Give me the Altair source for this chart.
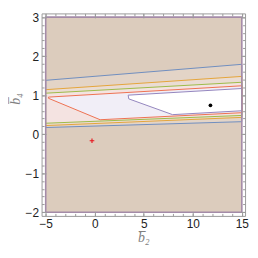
import altair as alt
import pandas as pd

# ---------------- data ----------------
# plot range of the region plot
x_lim = [-5, 15]
y_lim = [-2, 3]

# straight boundaries of the three outer bands: value at x=-5 and at x=15
band_names = ["blue", "orange", "green"]
upper_at_left = [1.38, 1.14, 1.05]
upper_at_right = [1.79, 1.48, 1.33]
lower_at_left = [0.17, 0.22, 0.28]
lower_at_right = [0.32, 0.43, 0.48]

# inner regions (polygon vertices)
red_x = [-4.72, 15, 15, 0.55, -4.72]
red_y = [0.95, 1.24, 0.55, 0.37, 0.92]
purple_x = [3.41, 15, 15, 7.94, 3.47]
purple_y = [1.00, 1.17, 0.60, 0.50, 0.905]

# marked points
dot_x, dot_y = [11.8], [0.74]
cross_x, cross_y = [-0.28], [-0.17]

# ticks
x_major = [-5, 0, 5, 10, 15]
x_minor = [-5, -4, -3, -2, -1, 0, 1, 2, 3, 4, 5, 6, 7, 8, 9, 10, 11, 12, 13, 14, 15]
y_major = [-2, -1, 0, 1, 2, 3]
y_minor = [-2.0, -1.8, -1.6, -1.4, -1.2, -1.0, -0.8, -0.6, -0.4, -0.2, 0.0, 0.2, 0.4,
           0.6, 0.8, 1.0, 1.2, 1.4, 1.6, 1.8, 2.0, 2.2, 2.4, 2.6, 2.8, 3.0]

# ---------------- styling ----------------
W, H = 206, 205
XD = [-5.42, 15.33]
YD = [-2.095, 3.095]
band_fill = ["#E3D4C7", "#EADCD3", "#F4E3E1"]
band_line = ["#6F8DBF", "#E5A53A", "#9CBB48"]
outer_fill = "#DCCCBD"
red_fill, red_line = "#F1EEF7", "#EE7150"
purple_fill, purple_line = "#FFFFFF", "#9385BE"
frame_col = "#A48BA8"
axis_col = "#9A9A9A"


def poly(xs, ys):
    xs = list(xs) + [xs[0]]
    ys = list(ys) + [ys[0]]
    return pd.DataFrame({"x": xs, "y": ys, "o": list(range(len(xs)))})


main_x_axis = alt.Axis(values=x_major, ticks=False, tickSize=0, domain=False, grid=False,
                       labelFont="Liberation Sans", labelFontSize=12, labelColor="#222222",
                       labelPadding=3, title="b\u0305\u2082", titleFont="Liberation Serif",
                       titleFontStyle="italic", titleFontWeight="normal", titleFontSize=14,
                       titleColor="#808080", titlePadding=1, format="d")
main_y_axis = alt.Axis(values=y_major, ticks=False, tickSize=0, domain=False, grid=False,
                       labelFont="Liberation Sans", labelFontSize=12, labelColor="#222222",
                       labelPadding=3, title="b\u0305\u2084", titleFont="Liberation Serif",
                       titleFontStyle="italic", titleFontWeight="normal", titleFontSize=14,
                       titleColor="#808080", titlePadding=3, titleY=0.42 * H, format="d")


def X(axis=main_x_axis):
    return alt.X("x:Q", scale=alt.Scale(domain=XD, nice=False, zero=False), axis=axis)


def Y(axis=main_y_axis):
    return alt.Y("y:Q", scale=alt.Scale(domain=YD, nice=False, zero=False), axis=axis)


rect_x = [x_lim[0], x_lim[1], x_lim[1], x_lim[0]]
rect_y = [y_lim[0], y_lim[0], y_lim[1], y_lim[1]]

layers = []
layers.append(alt.Chart(poly(rect_x, rect_y)).mark_line(fill=outer_fill, strokeWidth=0)
              .encode(x=X(), y=Y(), order="o:Q"))
for i in range(3):
    xs = [x_lim[0], x_lim[1], x_lim[1], x_lim[0]]
    ys = [lower_at_left[i], lower_at_right[i], upper_at_right[i], upper_at_left[i]]
    layers.append(alt.Chart(poly(xs, ys)).mark_line(fill=band_fill[i], stroke=band_line[i],
                                                    strokeWidth=1)
                  .encode(x=X(), y=Y(), order="o:Q"))
layers.append(alt.Chart(poly(red_x, red_y)).mark_line(fill=red_fill, stroke=red_line, strokeWidth=1)
              .encode(x=X(), y=Y(), order="o:Q"))
layers.append(alt.Chart(poly(purple_x, purple_y)).mark_line(fill=purple_fill, stroke=purple_line,
                                                            strokeWidth=1)
              .encode(x=X(), y=Y(), order="o:Q"))
layers.append(alt.Chart(poly(rect_x, rect_y)).mark_line(stroke=frame_col, strokeWidth=1.6)
              .encode(x=X(), y=Y(), order="o:Q"))
layers.append(alt.Chart(pd.DataFrame({"x": dot_x, "y": dot_y})).mark_circle(color="black", size=14, opacity=1)
              .encode(x=X(), y=Y()))
layers.append(alt.Chart(pd.DataFrame({"x": cross_x, "y": cross_y}))
              .mark_point(shape="M-1,0L1,0M0,-1L0,1", filled=False, stroke="#E8101A", strokeWidth=1.1,
                          size=22, opacity=1)
              .encode(x=X(), y=Y()))
data_group = alt.layer(*layers)

dummy = pd.DataFrame({"x": rect_x, "y": rect_y})


def tick_layer(xorient, xoff, xvals, yorient, yoff, yvals, size, dom):
    ax = alt.Axis(orient=xorient, offset=xoff, values=xvals, labels=False, tickSize=size,
                  tickColor=axis_col, domain=dom, domainColor=axis_col, grid=False, title=None,
                  zindex=1, tickWidth=1)
    ay = alt.Axis(orient=yorient, offset=yoff, values=yvals, labels=False, tickSize=size,
                  tickColor=axis_col, domain=dom, domainColor=axis_col, grid=False, title=None,
                  zindex=1, tickWidth=1)
    return alt.Chart(dummy).mark_point(opacity=0).encode(x=X(ax), y=Y(ay))


chart = alt.layer(
    data_group,
    tick_layer("top", -H, x_major, "right", -W, y_major, 4.5, True),
    tick_layer("top", -H, x_minor, "right", -W, y_minor, 2.5, False),
    tick_layer("bottom", -H, x_major, "left", -W, y_major, 4.5, True),
    tick_layer("bottom", -H, x_minor, "left", -W, y_minor, 2.5, False),
).resolve_scale(x="independent", y="independent").properties(
    width=W, height=H, padding={"left": 0, "top": 1, "right": 1, "bottom": 0}
).configure_view(stroke=None)

chart.save("out.html", embed_options={"renderer": "svg", "actions": False})
